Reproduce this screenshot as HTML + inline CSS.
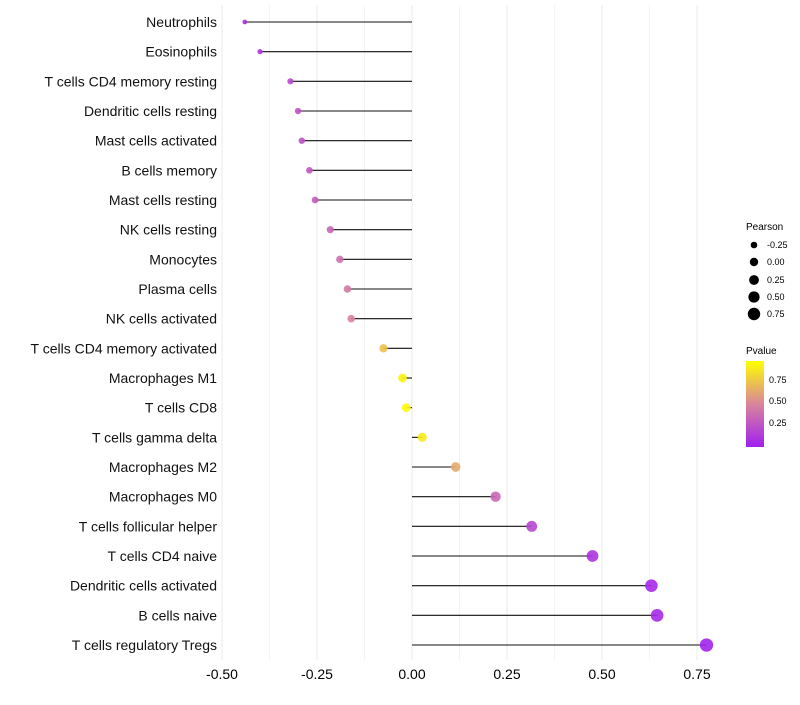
<!DOCTYPE html>
<html><head><meta charset="utf-8"><style>
body{margin:0;background:#fff;font-family:"Liberation Sans",sans-serif}
</style></head><body>
<svg id="chart" width="800" height="700" xmlns="http://www.w3.org/2000/svg">
<defs><linearGradient id="pg" x1="0" y1="1" x2="0" y2="0">
<stop offset="0" stop-color="#A020F0"/><stop offset="0.5" stop-color="#D9859B"/><stop offset="1" stop-color="#FFFF00"/>
</linearGradient></defs>
<g id="grid"></g><g id="marks"></g><g id="ylabels"></g><g id="xticks"></g>
<g font-size="9" fill="#000">
<text x="746" y="230" font-size="10">Pearson</text>
<circle cx="754" cy="245" r="3.3"/><text x="767" y="248">-0.25</text>
<circle cx="754" cy="262" r="4.2"/><text x="767" y="265">0.00</text>
<circle cx="754" cy="280" r="4.9"/><text x="767" y="283">0.25</text>
<circle cx="754" cy="297" r="5.6"/><text x="767" y="300">0.50</text>
<circle cx="754" cy="314" r="6.2"/><text x="767" y="317">0.75</text>
<text x="746" y="354" font-size="10">Pvalue</text>
<rect x="746" y="361" width="18" height="86" fill="url(#pg)"/>
<text x="769" y="383">0.75</text><text x="769" y="404">0.50</text><text x="769" y="426">0.25</text>
</g>
</svg>
<script>
const cells=["Neutrophils","Eosinophils","T cells CD4 memory resting","Dendritic cells resting","Mast cells activated","B cells memory","Mast cells resting","NK cells resting","Monocytes","Plasma cells","NK cells activated","T cells CD4 memory activated","Macrophages M1","T cells CD8","T cells gamma delta","Macrophages M2","Macrophages M0","T cells follicular helper","T cells CD4 naive","Dendritic cells activated","B cells naive","T cells regulatory  Tregs"];
const pearson=[-0.44,-0.40,-0.32,-0.30,-0.29,-0.27,-0.255,-0.215,-0.19,-0.17,-0.16,-0.075,-0.025,-0.015,0.027,0.115,0.22,0.315,0.475,0.63,0.645,0.775];
const pvalue=[0.05,0.1,0.2,0.25,0.25,0.28,0.3,0.35,0.4,0.45,0.5,0.75,0.95,0.97,0.92,0.65,0.35,0.2,0.1,0.05,0.05,0.02];
const xTicks=[-0.5,-0.25,0,0.25,0.5,0.75];
const NS="http://www.w3.org/2000/svg";
const x=v=>412+v*380;
const y=i=>22+i*29.667;
const r=v=>Math.sqrt(Math.max(3,19.7+32*v));
function lerp(a,b,t){return a.map((c,k)=>Math.round(c+(b[k]-c)*t));}
function col(p){const A=[160,32,240],M=[217,133,155],B=[255,255,0];
 const c=p<0.5?lerp(A,M,p/0.5):lerp(M,B,(p-0.5)/0.5);return `rgb(${c})`;}
function mk(t,a,parent){const e=document.createElementNS(NS,t);for(const k in a)e.setAttribute(k,a[k]);document.getElementById(parent).appendChild(e);return e;}
for(let v=-0.5;v<=0.76;v+=0.125){
 const g=mk('line',{x1:x(v),x2:x(v),y1:5,y2:660,stroke:Math.abs(v*4-Math.round(v*4))<0.01?'#ebebeb':'#f4f4f4','stroke-width':1},'grid');
 
 
}
xTicks.forEach(t=>{const e=mk('text',{x:x(t),y:679,'text-anchor':'middle','font-size':14,fill:'#000'},'xticks');e.textContent=t.toFixed(2);
 
 });
cells.forEach((c,i)=>{
 const l=mk('text',{x:217,y:y(i)+5,'text-anchor':'end','font-size':14,fill:'#111'},'ylabels');l.textContent=c;
 
 
 const s=mk('line',{x1:x(0),x2:x(pearson[i]),y1:y(i),y2:y(i),stroke:'#111','stroke-width':1.1},'marks');
 
 
 const p=mk('circle',{cx:x(pearson[i]),cy:y(i),r:r(pearson[i]),fill:col(pvalue[i]),'fill-opacity':0.9},'marks');
 
 
});
</script>
</body></html>
